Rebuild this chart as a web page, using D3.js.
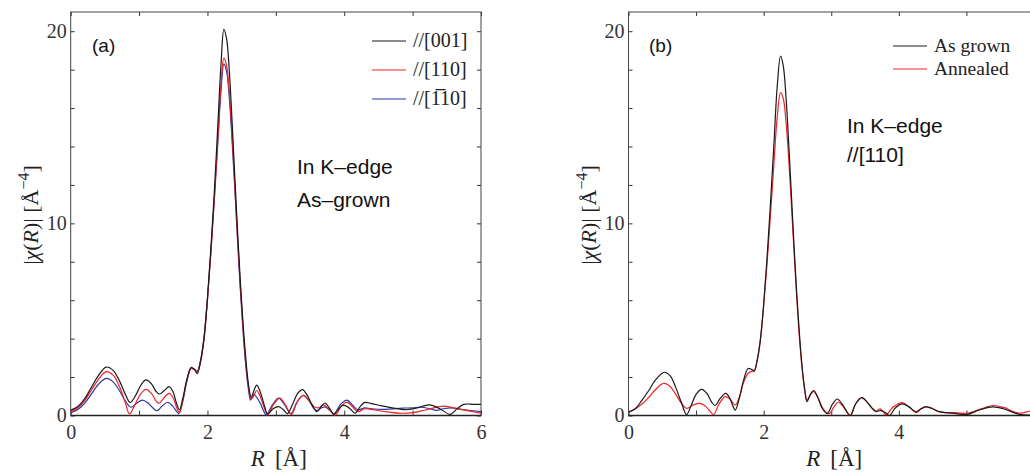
<!DOCTYPE html>
<html>
<head>
<meta charset="utf-8">
<script src="https://cdn.jsdelivr.net/npm/d3@7"></script>
<style>
  body { margin: 0; background: #fff; }
  .axis text { font-family: "Liberation Serif", "Times New Roman", serif; font-size: 20px; fill: #333; }
  .axis line { stroke: #333; stroke-width: 1; }
  .axis path { display: none; }
</style>
</head>
<body>
<svg id="chart" width="1030" height="472"></svg>
<script>
// ---- data: [R (Å), |chi(R)|] ----
var a_001 = [[0,0.28],[0.1,0.45],[0.2,0.85],[0.3,1.45],[0.4,2.05],[0.52,2.52],[0.62,2.35],[0.72,1.75],[0.8,1.1],[0.87,0.68],[0.95,1.05],[1.03,1.6],[1.1,1.85],[1.18,1.65],[1.25,1.25],[1.3,1.12],[1.37,1.3],[1.44,1.5],[1.5,1.2],[1.55,0.6],[1.59,0.3],[1.64,0.9],[1.7,1.9],[1.76,2.5],[1.81,2.4],[1.85,2.18],[1.9,2.8],[1.95,4.0],[2.0,6.1],[2.05,8.7],[2.1,11.6],[2.15,15.0],[2.2,18.4],[2.24,20.1],[2.28,19.6],[2.32,17.9],[2.36,15.3],[2.4,12.4],[2.44,9.6],[2.48,7.0],[2.52,4.8],[2.56,3.0],[2.6,1.6],[2.64,0.95],[2.68,1.3],[2.72,1.58],[2.77,1.25],[2.83,0.55],[2.88,0.08],[2.96,0.35],[3.04,0.46],[3.11,0.3],[3.17,0.1],[3.24,0.55],[3.32,1.15],[3.39,1.35],[3.46,1.05],[3.53,0.55],[3.6,0.2],[3.66,0.45],[3.72,0.65],[3.78,0.4],[3.85,0.06],[3.92,0.35],[3.98,0.52],[4.05,0.45],[4.1,0.3],[4.16,0.12],[4.23,0.45],[4.3,0.68],[4.4,0.62],[4.55,0.5],[4.7,0.4],[4.9,0.3],[5.05,0.38],[5.25,0.55],[5.4,0.35],[5.55,0.06],[5.65,0.35],[5.75,0.58],[5.9,0.58],[6,0.58]];
var a_110 = [[0,0.2],[0.1,0.38],[0.2,0.75],[0.3,1.3],[0.4,1.85],[0.52,2.28],[0.62,2.1],[0.72,1.45],[0.8,0.65],[0.86,0.08],[0.93,0.5],[1.02,1.1],[1.1,1.36],[1.18,1.15],[1.25,0.75],[1.29,0.63],[1.36,0.9],[1.44,1.15],[1.5,0.9],[1.55,0.4],[1.59,0.15],[1.64,0.8],[1.7,1.85],[1.76,2.45],[1.81,2.4],[1.85,2.25],[1.9,2.85],[1.95,4.0],[2.0,6.0],[2.05,8.5],[2.1,11.3],[2.15,14.3],[2.2,17.3],[2.24,18.6],[2.28,18.2],[2.32,16.8],[2.36,14.6],[2.4,12.0],[2.44,9.3],[2.48,6.8],[2.52,4.6],[2.56,2.8],[2.6,1.5],[2.64,0.85],[2.68,1.05],[2.72,1.3],[2.77,1.0],[2.83,0.4],[2.88,0.05],[2.97,0.6],[3.06,0.9],[3.14,0.55],[3.23,0.05],[3.31,0.7],[3.4,1.05],[3.48,0.8],[3.56,0.45],[3.62,0.4],[3.7,0.55],[3.78,0.3],[3.87,0.02],[3.96,0.5],[4.04,0.7],[4.12,0.45],[4.2,0.2],[4.3,0.35],[4.4,0.32],[4.6,0.2],[4.8,0.12],[5.0,0.15],[5.2,0.3],[5.45,0.49],[5.6,0.4],[5.8,0.25],[6,0.12]];
var a_m110 = [[0,0.15],[0.1,0.3],[0.2,0.62],[0.3,1.1],[0.4,1.6],[0.52,1.93],[0.62,1.75],[0.72,1.25],[0.8,0.75],[0.88,0.43],[0.96,0.62],[1.05,0.8],[1.13,0.65],[1.2,0.4],[1.26,0.25],[1.34,0.5],[1.42,0.69],[1.49,0.5],[1.54,0.25],[1.58,0.1],[1.64,0.75],[1.7,1.8],[1.76,2.45],[1.81,2.4],[1.85,2.3],[1.9,2.9],[1.95,4.1],[2.0,6.1],[2.05,8.5],[2.1,11.2],[2.15,14.1],[2.2,17.0],[2.24,18.3],[2.28,17.9],[2.32,16.5],[2.36,14.3],[2.4,11.8],[2.44,9.1],[2.48,6.6],[2.52,4.4],[2.56,2.6],[2.6,1.35],[2.63,0.8],[2.67,1.1],[2.71,1.0],[2.77,0.65],[2.82,0.25],[2.86,0.03],[2.95,0.55],[3.04,0.9],[3.12,0.6],[3.22,0.1],[3.31,0.7],[3.4,1.05],[3.48,0.8],[3.55,0.4],[3.6,0.25],[3.67,0.4],[3.72,0.45],[3.78,0.3],[3.85,0.1],[3.95,0.6],[4.04,0.8],[4.12,0.55],[4.2,0.3],[4.3,0.4],[4.4,0.35],[4.6,0.32],[4.85,0.38],[5.0,0.4],[5.13,0.43],[5.25,0.35],[5.35,0.27],[5.45,0.35],[5.55,0.4],[5.75,0.3],[6,0.2]];

var b_grown = [[0,0.17],[0.1,0.35],[0.2,0.8],[0.3,1.3],[0.4,1.85],[0.53,2.25],[0.62,2.05],[0.7,1.45],[0.78,0.7],[0.86,0.05],[0.93,0.55],[1.0,1.1],[1.08,1.36],[1.16,1.15],[1.23,0.7],[1.28,0.52],[1.36,0.9],[1.44,1.15],[1.5,0.9],[1.55,0.45],[1.58,0.28],[1.64,0.9],[1.7,1.8],[1.77,2.45],[1.82,2.4],[1.86,2.33],[1.9,2.8],[1.95,3.9],[2.0,5.8],[2.05,8.2],[2.1,11.0],[2.15,14.0],[2.2,17.1],[2.25,18.7],[2.29,18.2],[2.33,16.6],[2.37,14.2],[2.41,11.5],[2.45,8.8],[2.49,6.3],[2.53,4.2],[2.57,2.5],[2.61,1.3],[2.64,0.72],[2.69,1.1],[2.74,1.3],[2.8,0.95],[2.87,0.35],[2.94,0.1],[3.02,0.6],[3.09,0.86],[3.17,0.55],[3.28,0.0],[3.36,0.6],[3.45,0.93],[3.53,0.7],[3.6,0.4],[3.66,0.22],[3.74,0.25],[3.8,0.15],[3.86,0.0],[3.95,0.4],[4.05,0.6],[4.15,0.45],[4.25,0.2],[4.33,0.35],[4.4,0.45],[4.5,0.35],[4.6,0.2],[4.8,0.12],[5.0,0.05],[5.2,0.3],[5.39,0.45],[5.55,0.35],[5.7,0.15],[5.78,0.06],[5.9,0.02],[6,0.05]];
var b_annealed = [[0,0.17],[0.1,0.35],[0.2,0.6],[0.3,0.95],[0.4,1.35],[0.52,1.67],[0.62,1.5],[0.7,1.1],[0.78,0.65],[0.86,0.37],[0.96,0.55],[1.06,0.63],[1.15,0.45],[1.21,0.2],[1.26,0.05],[1.34,0.6],[1.43,0.98],[1.5,0.85],[1.58,0.55],[1.64,0.95],[1.7,1.7],[1.77,2.2],[1.82,2.3],[1.86,2.3],[1.9,2.8],[1.95,3.9],[2.0,5.7],[2.05,7.9],[2.1,10.4],[2.15,13.0],[2.2,15.5],[2.25,16.8],[2.29,16.5],[2.33,15.3],[2.37,13.4],[2.41,11.0],[2.45,8.5],[2.49,6.1],[2.53,4.0],[2.57,2.4],[2.61,1.25],[2.64,0.8],[2.69,1.05],[2.74,1.25],[2.8,0.95],[2.88,0.35],[2.97,0.1],[3.04,0.45],[3.1,0.69],[3.18,0.45],[3.28,0.0],[3.36,0.6],[3.45,0.93],[3.53,0.7],[3.6,0.4],[3.66,0.2],[3.72,0.34],[3.77,0.2],[3.81,0.03],[3.92,0.45],[4.05,0.67],[4.15,0.45],[4.26,0.15],[4.33,0.35],[4.4,0.46],[4.5,0.35],[4.6,0.18],[4.8,0.15],[5.0,0.12],[5.2,0.32],[5.39,0.52],[5.55,0.42],[5.7,0.2],[5.8,0.12],[5.93,0.22],[6,0.25]];

var xTicks = [0, 1, 2, 3, 4, 5, 6];
var xLabelsA = [0, 2, 4, 6];
var xLabelsB = [0, 2, 4];   // the "6" of panel b falls outside the picture
var yTicks = [0, 2, 4, 6, 8, 10, 12, 14, 16, 18, 20];
var yLabels = [0, 10, 20];

var svg = d3.select("#chart");
svg.append("rect").attr("width", 1030).attr("height", 472).attr("fill", "#fff");

function draw_panel(opt) {
    var left = opt.left, right = opt.right, top = 12, bottom = 415.5;
    var width = right - left, height = bottom - top;

    var x = d3.scaleLinear().domain([0, 6]).range([0, width]);
    var y = d3.scaleLinear().domain([0, 21]).range([height, 0]);

    var g = svg.append("g")
        .attr("transform", "translate(" + left + "," + top + ")");

    var fmtX = function (d) { return opt.xLabels.indexOf(d) >= 0 ? d : ""; };
    var fmtY = function (d) { return yLabels.indexOf(d) >= 0 ? d : ""; };

    g.append("g")
        .attr("class", "axis")
        .attr("transform", "translate(0," + height + ")")
        .call(d3.axisBottom(x).tickValues(xTicks).tickFormat(fmtX).tickSize(-5).tickSizeOuter(0).tickPadding(9));

    g.append("g")
        .attr("class", "axis")
        .call(d3.axisTop(x).tickValues(xTicks).tickFormat("").tickSize(-4).tickSizeOuter(0));

    g.append("g")
        .attr("class", "axis")
        .call(d3.axisLeft(y).tickValues(yTicks).tickFormat(fmtY).tickSize(-4).tickSizeOuter(0).tickPadding(4));

    g.append("g")
        .attr("class", "axis")
        .attr("transform", "translate(" + width + ",0)")
        .call(d3.axisRight(y).tickValues(yTicks).tickFormat("").tickSize(-4).tickSizeOuter(0));

    // frame
    g.append("rect")
        .attr("width", width)
        .attr("height", height)
        .attr("fill", "none")
        .attr("stroke", "#444")
        .attr("stroke-width", 1);
    g.append("line")
        .attr("x1", 0).attr("x2", width)
        .attr("y1", height).attr("y2", height)
        .attr("stroke", "#222")
        .attr("stroke-width", 1.6);

    var line = d3.line()
        .x(function (d) { return x(d[0]); })
        .y(function (d) { return y(d[1]); })
        .curve(d3.curveCatmullRom.alpha(0.5));

    // draw last series first so the first one sits on top
    opt.series.slice().reverse().forEach(function (s) {
        g.append("path")
            .datum(s.data)
            .attr("fill", "none")
            .attr("stroke", s.color)
            .attr("stroke-width", 1.2)
            .attr("d", line);
    });

    // legend
    var legend = g.append("g")
        .attr("font-family", "'Liberation Serif', 'Times New Roman', serif")
        .attr("font-size", opt.legendSize)
        .attr("fill", "#222")
        .selectAll("g")
        .data(opt.series)
        .enter().append("g")
        .attr("transform", function (d, i) {
            return "translate(" + (opt.legendX - left) + "," + (opt.legendY - top + i * opt.legendStep) + ")";
        });

    legend.append("line")
        .attr("x1", 0).attr("x2", 34)
        .attr("stroke", function (d) { return d.color; })
        .attr("stroke-width", 1.2);

    legend.append("text")
        .attr("x", 41)
        .attr("dy", "0.32em")
        .text(function (d) { return d.name; });

    // panel letter + notes
    g.append("text")
        .attr("x", opt.letterX - left)
        .attr("y", 52 - top)
        .attr("font-family", "'Liberation Sans', Arial, sans-serif")
        .attr("font-size", 19)
        .attr("fill", "#111")
        .text(opt.letter);

    g.selectAll(".note")
        .data(opt.notes)
        .enter().append("text")
        .attr("class", "note")
        .attr("x", opt.noteX - left)
        .attr("y", function (d, i) { return opt.noteY - top + i * opt.noteStep; })
        .attr("font-family", "'Liberation Sans', Arial, sans-serif")
        .attr("font-size", 21)
        .attr("fill", "#111")
        .text(function (d) { return d; });

    // axis titles
    var xt = svg.append("text")
        .attr("x", left + width / 2 + 3)
        .attr("y", 466)
        .attr("text-anchor", "middle")
        .attr("font-family", "'Liberation Serif', 'Times New Roman', serif")
        .attr("font-size", 23)
        .attr("fill", "#222");
    xt.append("tspan").attr("font-style", "italic").text("R");
    xt.append("tspan").attr("dx", 10).text("[\u00c5]");

    var yt = svg.append("text")
        .attr("transform", "translate(" + (left - 33) + ",215) rotate(-90)")
        .attr("text-anchor", "middle")
        .attr("font-family", "'Liberation Serif', 'Times New Roman', serif")
        .attr("font-size", 22)
        .attr("fill", "#222");
    yt.append("tspan").text("|");
    yt.append("tspan").attr("font-style", "italic").text("\u03c7");
    yt.append("tspan").text("(");
    yt.append("tspan").attr("font-style", "italic").text("R");
    yt.append("tspan").text(")| [\u00c5");
    yt.append("tspan").attr("dy", -9).attr("font-size", 16).text("\u22124");
    yt.append("tspan").attr("dy", 9).text("]");
}

draw_panel({
    left: 70.7, right: 481, xLabels: xLabelsA,
    letter: "(a)", letterX: 92,
    notes: ["In K\u2013edge", "As\u2013grown"], noteX: 297, noteY: 174, noteStep: 33,
    legendX: 372, legendY: 41, legendStep: 29, legendSize: 20,
    series: [
        {name: "//[001]", color: "#1a1a1a", data: a_001},
        {name: "//[110]", color: "#f22228", data: a_110},
        {name: "//[1\u030510]", color: "#2a36a6", data: a_m110}
    ]
});

draw_panel({
    left: 628.5, right: 1034, xLabels: xLabelsB,
    letter: "(b)", letterX: 649,
    notes: ["In K\u2013edge", "//[110]"], noteX: 847, noteY: 133, noteStep: 29,
    legendX: 893, legendY: 46, legendStep: 23, legendSize: 19.5,
    series: [
        {name: "As grown", color: "#1a1a1a", data: b_grown},
        {name: "Annealed", color: "#f22228", data: b_annealed}
    ]
});
</script>
</body>
</html>
